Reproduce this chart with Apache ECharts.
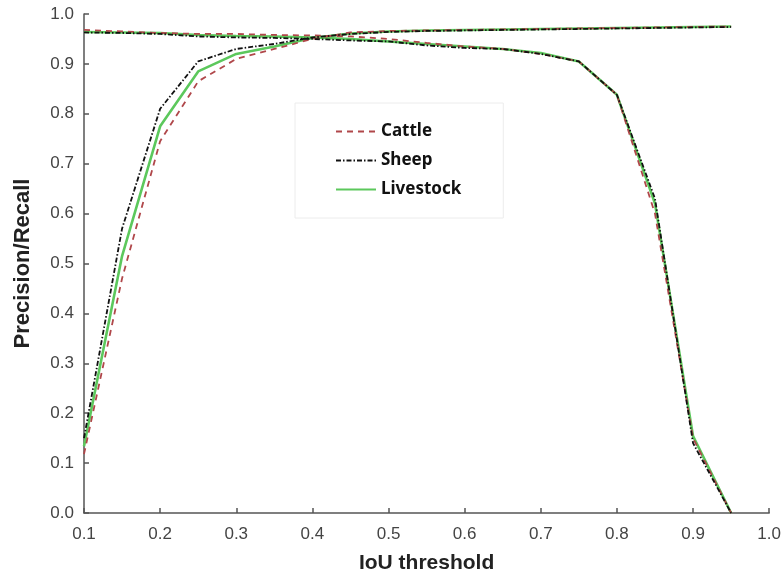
<!DOCTYPE html>
<html>
<head>
<meta charset="utf-8">
<script src="https://cdn.jsdelivr.net/npm/echarts@6/dist/echarts.min.js"></script>
<style>html,body{margin:0;padding:0;background:#fff;}#c{width:784px;height:579px;}</style>
</head>
<body>
<div id="c"></div>
<script>
// IoU thresholds
var iou = [0.1,0.15,0.2,0.25,0.3,0.35,0.4,0.45,0.5,0.55,0.6,0.65,0.7,0.75,0.8,0.85,0.9,0.95];
// rising curves
var cattleRecall    = [0.118,0.47,0.745,0.865,0.91,0.93,0.95,0.963,0.966,0.967,0.968,0.969,0.970,0.971,0.972,0.973,0.974,0.975];
var sheepRecall     = [0.15,0.57,0.81,0.905,0.93,0.94,0.953,0.96,0.964,0.966,0.967,0.968,0.969,0.970,0.971,0.972,0.973,0.974];
var livestockRecall = [0.134,0.515,0.775,0.885,0.92,0.935,0.952,0.961,0.965,0.967,0.968,0.969,0.970,0.971,0.972,0.973,0.974,0.975];
// falling curves
var cattlePrecision    = [0.968,0.965,0.962,0.96,0.96,0.958,0.957,0.955,0.95,0.942,0.935,0.93,0.92,0.905,0.838,0.60,0.15,0.0];
var sheepPrecision     = [0.963,0.962,0.96,0.955,0.953,0.952,0.95,0.947,0.945,0.937,0.932,0.93,0.92,0.905,0.838,0.63,0.14,0.0];
var livestockPrecision = [0.964,0.963,0.962,0.958,0.956,0.955,0.953,0.95,0.945,0.94,0.935,0.93,0.922,0.905,0.838,0.62,0.154,0.0];

var names = ['Cattle','Sheep','Livestock'];

function pairs(ys){ return iou.map(function(x,i){ return [x, ys[i]]; }); }

var styles = {
  Cattle:    {color:'#b0474a', width:1.8, type:[6,5]},
  Sheep:     {color:'#111111', width:1.8, type:[5,2,1.5,2]},
  Livestock: {color:'#5cc85c', width:2.6, type:'solid'}
};
function mk(name, ys, z){
  var s = styles[name];
  return {
    name:name, type:'line', data:pairs(ys), symbol:'none', z:z,
    lineStyle:{color:s.color, width:s.width, type:s.type},
    itemStyle:{color:s.color}
  };
}

var chart = echarts.init(document.getElementById('c'), null, {renderer:'canvas'});
chart.setOption({
  animation:false,
  backgroundColor:'#fff',
  grid:{left:84, right:10, top:14, bottom:65},
  legend:{
    data:names, orient:'vertical', left:295, top:103,
    padding:[20,42,20,40], itemWidth:40, itemHeight:14, itemGap:12,
    borderColor:'#ececec', borderWidth:1, backgroundColor:'#fff',
    itemStyle:{opacity:0},
    textStyle:{fontFamily:'Noto Sans', fontWeight:'bold', fontSize:17, color:'#111'}
  },
  xAxis:{
    type:'value', min:0.1, max:1.0, interval:0.1,
    name:'IoU threshold', nameLocation:'middle', nameGap:40,
    nameTextStyle:{fontFamily:'Liberation Sans', fontWeight:'bold', fontSize:21, color:'#222'},
    axisLine:{lineStyle:{color:'#555', width:1.5}},
    axisTick:{inside:true, length:5, lineStyle:{color:'#555', width:1.5}},
    axisLabel:{margin:13, fontFamily:'Liberation Sans', fontSize:17, color:'#444',
      formatter:function(v){return v.toFixed(1);}},
    splitLine:{show:false}
  },
  yAxis:{
    type:'value', min:0, max:1.0, interval:0.1,
    name:'Precision/Recall', nameLocation:'middle', nameGap:50, nameRotate:90,
    nameTextStyle:{fontFamily:'Liberation Sans', fontWeight:'bold', fontSize:22, color:'#222'},
    axisLine:{show:true, lineStyle:{color:'#555', width:1.5}},
    axisTick:{show:true, inside:true, length:5, lineStyle:{color:'#555', width:1.5}},
    axisLabel:{margin:10, fontFamily:'Liberation Sans', fontSize:17, color:'#444',
      formatter:function(v){return v.toFixed(1);}},
    splitLine:{show:false}
  },
  series:[
    mk('Livestock', livestockRecall, 2),
    mk('Livestock', livestockPrecision, 2),
    mk('Cattle', cattleRecall, 3),
    mk('Cattle', cattlePrecision, 3),
    mk('Sheep', sheepRecall, 4),
    mk('Sheep', sheepPrecision, 4)
  ]
});
</script>
</body>
</html>
